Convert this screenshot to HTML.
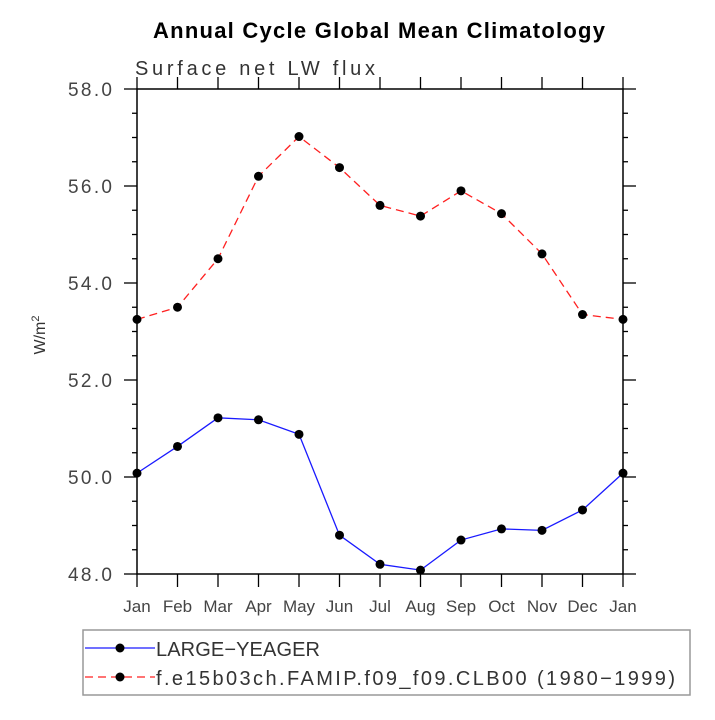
<!DOCTYPE html>
<html><head><meta charset="utf-8"><style>
body{margin:0;background:#fff}
svg text{font-family:"Liberation Sans",sans-serif}
</style></head><body>
<svg id="chart" width="715" height="715" viewBox="0 0 715 715">
<text x="379" y="38" text-anchor="middle" font-size="22" font-weight="bold" textLength="452">Annual Cycle Global Mean Climatology</text>
<text x="135" y="75" font-size="20" fill="#333" textLength="240">Surface net LW flux</text>
<text x="0" y="0" font-size="16" fill="#333" transform="translate(45,335) rotate(-90)" text-anchor="middle">W/m<tspan dy="-6" font-size="11">2</tspan></text>
<g id="axes"></g>
<g id="series"></g>
<rect x="83" y="630" width="607" height="65" fill="none" stroke="#999" stroke-width="1.5"/>
<g>
<line x1="85" y1="648" x2="155" y2="648" stroke="#1a1aff" stroke-width="1.3"/>
<circle cx="120" cy="648" r="4.5" fill="#000"/>
<text x="156" y="656" font-size="20" fill="#333" textLength="164">LARGE−YEAGER</text>
</g>
<g>
<line x1="85" y1="677" x2="155" y2="677" stroke="#ff2020" stroke-width="1.3" stroke-dasharray="8,5"/>
<circle cx="120" cy="677" r="4.5" fill="#000"/>
<text x="156" y="685" font-size="20" fill="#333" textLength="519">f.e15b03ch.FAMIP.f09_f09.CLB00 (1980−1999)</text>
</g>
</svg>
<script>
const months = ["Jan","Feb","Mar","Apr","May","Jun","Jul","Aug","Sep","Oct","Nov","Dec","Jan"];
const largeYeager = [50.08,50.63,51.22,51.18,50.88,48.8,48.2,48.08,48.7,48.93,48.9,49.32,50.08];
const famip = [53.25,53.5,54.5,56.2,57.02,56.38,55.6,55.38,55.9,55.43,54.6,53.35,53.25];
const yTicks = [48,50,52,54,56,58];
const yTickLabels = ["48.0","50.0","52.0","54.0","56.0","58.0"];

const NS="http://www.w3.org/2000/svg";
const L=137,R=623,T=89,B=574,ymin=48,ymax=58;
const xs=i=>L+(R-L)*i/(months.length-1);
const ys=v=>B-(v-ymin)/(ymax-ymin)*(B-T);
function mk(tag,attrs,parent){const e=document.createElementNS(NS,tag);for(const k in attrs)e.setAttribute(k,attrs[k]);parent.appendChild(e);return e;}
const ax=document.getElementById('axes');
const frame=mk('rect',{x:L,y:T,width:R-L,height:B-T,fill:'none',stroke:'#000','stroke-width':1.5},ax);


for(let v=ymin;v<=ymax+1e-9;v+=0.5){
  const major=Math.abs(v/2-Math.round(v/2))<1e-9;
  const len=major?13:5;
  mk('line',{x1:L-len,y1:ys(v),x2:L,y2:ys(v),stroke:'#000','stroke-width':1.3},ax);
  mk('line',{x1:R,y1:ys(v),x2:R+len,y2:ys(v),stroke:'#000','stroke-width':1.3},ax);
}
yTicks.forEach((v,i)=>{
  const t=mk('text',{x:68,y:ys(v)+7,'font-size':19,fill:'#444',textLength:44},ax);
  t.textContent=yTickLabels[i];
  
  
});
months.forEach((m,i)=>{
  mk('line',{x1:xs(i),y1:B,x2:xs(i),y2:B+13,stroke:'#000','stroke-width':1.3},ax);
  mk('line',{x1:xs(i),y1:T-12,x2:xs(i),y2:T,stroke:'#000','stroke-width':1.3},ax);
  const t=mk('text',{x:xs(i),y:B+38,'text-anchor':'middle','font-size':17,fill:'#444'},ax);
  t.textContent=m;
  
  
});
const sg=document.getElementById('series');
function series(data,color,dash,name){
  const g=mk('g',{},sg);
  
  
  const pts=data.map((v,i)=>xs(i)+','+ys(v)).join(' ');
  const pl=mk('polyline',{points:pts,fill:'none',stroke:color,'stroke-width':1.3},g);
  if(dash)pl.setAttribute('stroke-dasharray',dash);
  
  
  data.forEach((v,i)=>{
    const c=mk('circle',{cx:xs(i),cy:ys(v),r:4.5,fill:'#000'},g);
    
    
  });
}
series(famip,'#ff2020','8,5','famip-series');
series(largeYeager,'#1a1aff',null,'large-yeager-series');
</script>
</body></html>
